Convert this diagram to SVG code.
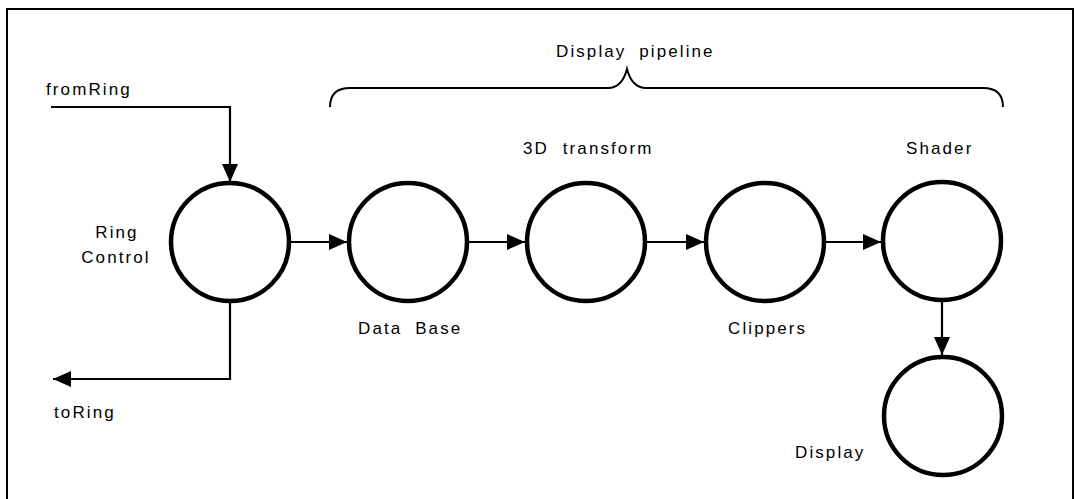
<svg xmlns="http://www.w3.org/2000/svg" width="1075" height="499" viewBox="0 0 1075 499">
<style>
  .node { fill: #fff; stroke: #000; stroke-width: 4.5; }
  .lbl { font-family: "Liberation Sans", Arial, sans-serif; font-size: 17px; fill: #000; letter-spacing: 2.1px; }
  .conn { fill: none; stroke: #000; stroke-width: 2.2; }
</style>
<defs>
  <marker id="arr" viewBox="0 0 18 16" refX="18" refY="8" markerWidth="18" markerHeight="16" markerUnits="userSpaceOnUse" orient="auto">
    <path d="M0,0 L18,8 L0,16 Z" fill="#000"/>
  </marker>
</defs>
<rect width="1075" height="499" fill="#fff"/>
<path d="M7,499 V9 H1073 V499" fill="none" stroke="#000" stroke-width="2"/>
<g id="brace">
  <path d="M330,107 Q330,88 350,88 H608 Q622,88 627,69 Q632,88 646,88 H983 Q1003,88 1003,107" fill="none" stroke="#000" stroke-width="2"/>
  <text class="lbl" x="556" y="57" word-spacing="6" letter-spacing="1.8">Display pipeline</text>
</g>
<g id="connectors">
  <path class="conn" d="M51,107 H230 V182" marker-end="url(#arr)"/>
  <path class="conn" d="M230,301 V379 H53" marker-end="url(#arr)"/>
  <path class="conn" d="M290,242 H347" marker-end="url(#arr)"/>
  <path class="conn" d="M468,242 H525" marker-end="url(#arr)"/>
  <path class="conn" d="M646,242 H704" marker-end="url(#arr)"/>
  <path class="conn" d="M825,242 H881" marker-end="url(#arr)"/>
  <path class="conn" d="M942,300 V355" marker-end="url(#arr)"/>
  <text class="lbl" x="46" y="95" letter-spacing="2.8">fromRing</text>
  <text class="lbl" x="54" y="418">toRing</text>
</g>
<g id="ringcontrol">
  <circle class="node" cx="230" cy="242" r="59"/>
  <text class="lbl" x="117" y="238" text-anchor="middle">Ring</text>
  <text class="lbl" x="116" y="263" text-anchor="middle">Control</text>
</g>
<g id="database">
  <circle class="node" cx="408" cy="242" r="59"/>
  <text class="lbl" x="358" y="334" word-spacing="6">Data Base</text>
</g>
<g id="transform3d">
  <circle class="node" cx="586" cy="242" r="59"/>
  <text class="lbl" x="523" y="154" word-spacing="7" letter-spacing="1.6">3D transform</text>
</g>
<g id="clippers">
  <circle class="node" cx="765" cy="242" r="59"/>
  <text class="lbl" x="728" y="334">Clippers</text>
</g>
<g id="shader">
  <circle class="node" cx="942" cy="241" r="59"/>
  <text class="lbl" x="906" y="154">Shader</text>
</g>
<g id="display">
  <circle class="node" cx="943" cy="416" r="59"/>
  <text class="lbl" x="795" y="458">Display</text>
</g>
</svg>
